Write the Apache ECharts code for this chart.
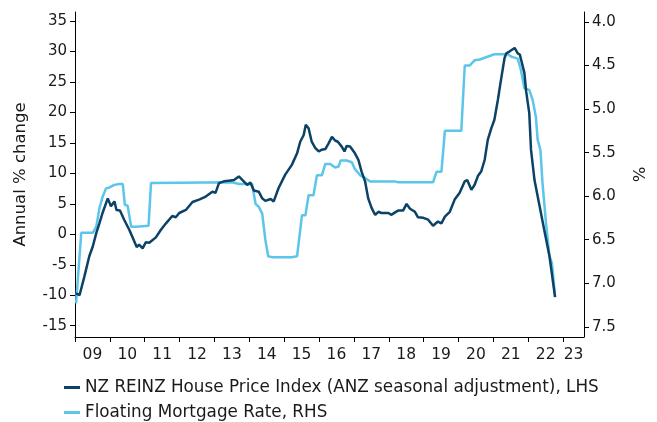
<!DOCTYPE html>
<html>
<head>
<meta charset="utf-8">
<script src="https://cdn.jsdelivr.net/npm/echarts@6/dist/echarts.min.js"></script>
<style>
  html, body { margin: 0; padding: 0; background: #fff; }
  #chart { width: 657px; height: 422px; }
</style>
</head>
<body>
<div id="chart"></div>
<script>
// House price index, annual % change (LHS)
const hpiYears = [
  2009.03, 2009.13, 2009.27, 2009.41, 2009.51, 2009.61, 2009.70, 2009.79, 2009.94, 2009.99,
  2010.03, 2010.13, 2010.19, 2010.29, 2010.41, 2010.56, 2010.65, 2010.77, 2010.84, 2010.94,
  2011.03, 2011.13, 2011.32, 2011.46, 2011.61, 2011.79, 2011.89, 2011.99,
  2012.18, 2012.37, 2012.56, 2012.75, 2012.94,
  2013.03, 2013.13, 2013.27, 2013.41, 2013.56, 2013.61, 2013.70, 2013.84, 2013.94,
  2014.03, 2014.13, 2014.27, 2014.37, 2014.46, 2014.61, 2014.70, 2014.84,
  2015.03, 2015.22, 2015.37, 2015.46, 2015.56, 2015.62, 2015.70, 2015.79, 2015.89, 2015.99,
  2016.08, 2016.18, 2016.27, 2016.37, 2016.46, 2016.54, 2016.65, 2016.73, 2016.79, 2016.89,
  2017.03, 2017.13, 2017.22, 2017.32, 2017.41, 2017.51, 2017.61, 2017.70, 2017.79, 2017.99,
  2018.08, 2018.18, 2018.27, 2018.41, 2018.51, 2018.61, 2018.75, 2018.84, 2018.99,
  2019.13, 2019.27, 2019.41, 2019.51, 2019.61, 2019.75, 2019.89,
  2020.03, 2020.18, 2020.25, 2020.37, 2020.46, 2020.56, 2020.65, 2020.75, 2020.84, 2020.94,
  2021.03, 2021.13, 2021.22, 2021.32, 2021.37, 2021.46, 2021.61, 2021.70, 2021.76, 2021.89, 2021.94,
  2022.03, 2022.08, 2022.18, 2022.32, 2022.46, 2022.61, 2022.77
]
const hpiValues = [
  -9.7, -10.0, -6.9, -3.6, -2.0, 0.2, 1.8, 3.5, 5.9, 5.2,
  4.6, 5.4, 4.0, 3.9, 2.4, 0.7, -0.5, -2.1, -1.7, -2.3,
  -1.3, -1.4, -0.5, 0.7, 1.8, 3.0, 2.8, 3.5,
  4.0, 5.3, 5.7, 6.2, 7.0,
  6.8, 8.4, 8.7, 8.8, 8.9, 8.7, 9.5, 8.7, 8.1,
  8.5, 7.2, 7.0, 5.9, 5.5, 5.8, 5.4, 7.6,
  9.8, 11.4, 13.3, 15.2, 16.3, 18.0, 17.4, 15.2, 14.2, 13.6,
  13.9, 14.0, 14.9, 16.0, 15.4, 15.2, 14.4, 13.6, 14.5, 14.4,
  13.3, 12.2, 10.3, 8.7, 5.9, 4.3, 3.2, 3.7, 3.5, 3.5,
  3.2, 3.6, 3.9, 3.9, 5.0, 4.2, 3.7, 2.8, 2.7,
  2.4, 1.4, 2.1, 1.8, 2.9, 3.7, 5.7,
  6.8, 8.7, 8.9, 7.3, 8.1, 9.6, 10.3, 12.2, 15.5, 17.4,
  18.8, 22.1, 25.4, 28.9, 29.7, 30.0, 30.6, 29.7, 29.5, 26.5, 23.5,
  19.9, 13.9, 8.9, 4.8, 0.7, -3.6, -10.3
]

// Floating mortgage rate, % (RHS, inverted)
const rateYears = [
  2009.03, 2009.18, 2009.51, 2009.61, 2009.70, 2009.79, 2009.89, 2009.99,
  2010.13, 2010.27, 2010.37, 2010.43, 2010.51, 2010.61, 2010.75,
  2011.11, 2011.18, 2013.51, 2013.70, 2014.08, 2014.18, 2014.27, 2014.37, 2014.46, 2014.54, 2014.65,
  2015.22, 2015.37, 2015.51, 2015.61, 2015.70, 2015.84, 2015.94,
  2016.08, 2016.18, 2016.32, 2016.46, 2016.56, 2016.62, 2016.79, 2016.94,
  2017.03, 2017.18, 2017.32, 2017.46, 2018.18, 2018.27,
  2019.27, 2019.37, 2019.51, 2019.61, 2020.08, 2020.18, 2020.32, 2020.46, 2020.61,
  2021.03, 2021.41, 2021.53, 2021.70, 2021.79, 2021.89,
  2022.03, 2022.13, 2022.22, 2022.27, 2022.35, 2022.41, 2022.51, 2022.61, 2022.68, 2022.77
]
const rateValues = [
  7.23, 6.42, 6.42, 6.35, 6.14, 6.01, 5.91, 5.90,
  5.87, 5.86, 5.86, 6.10, 6.11, 6.35, 6.35,
  6.34, 5.85, 5.84, 5.86, 5.86, 6.09, 6.12, 6.20, 6.50, 6.69, 6.70,
  6.70, 6.69, 6.22, 6.22, 5.99, 5.99, 5.76,
  5.76, 5.63, 5.63, 5.67, 5.66, 5.59, 5.59, 5.61,
  5.69, 5.76, 5.79, 5.83, 5.83, 5.84,
  5.84, 5.72, 5.72, 5.25, 5.25, 4.50, 4.50, 4.44, 4.43,
  4.37, 4.37, 4.40, 4.42, 4.55, 4.76,
  4.78, 4.90, 5.09, 5.35, 5.47, 5.85, 6.31, 6.69, 6.77, 7.15
]

const yearTicks = [2009, 2010, 2011, 2012, 2013, 2014, 2015, 2016, 2017, 2018, 2019, 2020, 2021, 2022, 2023]
const yearLabelPos = [2009.5, 2010.5, 2011.5, 2012.5, 2013.5, 2014.5, 2015.5, 2016.5, 2017.5, 2018.5, 2019.5, 2020.5, 2021.5, 2022.5, 2023.3]
const leftTicks = [-15, -10, -5, 0, 5, 10, 15, 20, 25, 30, 35]
const rightTicks = [4.0, 4.5, 5.0, 5.5, 6.0, 6.5, 7.0, 7.5]

const hpiName = 'NZ REINZ House Price Index (ANZ seasonal adjustment), LHS'
const rateName = 'Floating Mortgage Rate, RHS'

const font = 'DejaVu Sans'
const axisColor = '#000'
const textColor = '#1a1a1a'

// one legend per row so they stack like the original
function legendRow(name, top) {
  return {
    left: 59,
    top: top,
    itemWidth: 16,
    itemHeight: 3,
    itemGap: 4,
    icon: 'rect',
    textStyle: { fontFamily: font, fontSize: 16.8, color: textColor },
    data: [name]
  }
}

const chart = echarts.init(document.getElementById('chart'))
const option = {
  animation: false,
  textStyle: { fontFamily: font },
  grid: {
    left: 75,
    right: 71,
    top: 12,
    bottom: 85
  },
  legend: [
    legendRow(hpiName, 374),
    legendRow(rateName, 399)
  ],
  xAxis: {
    type: 'value',
    min: 2009,
    max: 2023.6,
    splitLine: { show: false },
    axisLine: { onZero: false, lineStyle: { color: axisColor, width: 1 } },
    axisTick: { customValues: yearTicks, length: 5, lineStyle: { color: axisColor } },
    axisLabel: {
      customValues: yearLabelPos,
      margin: 10,
      fontSize: 15.5,
      color: textColor,
      formatter: v => String(Math.floor(v) % 100).padStart(2, '0')
    }
  },
  yAxis: [
    {
      type: 'value',
      min: -16.86,
      max: 36.5,
      name: 'Annual % change',
      nameLocation: 'middle',
      nameGap: 46,
      nameTextStyle: { fontSize: 16.5, color: textColor },
      splitLine: { show: false },
      axisLine: { show: true, lineStyle: { color: axisColor } },
      axisTick: { show: true, customValues: leftTicks, length: 5, lineStyle: { color: axisColor } },
      axisLabel: { customValues: leftTicks, fontSize: 15, color: textColor, margin: 8 }
    },
    {
      type: 'value',
      position: 'right',
      inverse: true,
      min: 3.885,
      max: 7.617,
      name: '%',
      nameLocation: 'middle',
      nameGap: 48,
      nameTextStyle: { fontSize: 16.5, color: textColor },
      splitLine: { show: false },
      axisLine: { show: true, lineStyle: { color: axisColor } },
      axisTick: { show: true, customValues: rightTicks, length: 5, lineStyle: { color: axisColor } },
      axisLabel: {
        customValues: rightTicks,
        fontSize: 15,
        color: textColor,
        margin: 8,
        formatter: v => v.toFixed(1)
      }
    }
  ],
  series: [
    {
      name: rateName,
      type: 'line',
      yAxisIndex: 1,
      showSymbol: false,
      symbol: 'none',
      itemStyle: { color: '#5bc5ea' },
      lineStyle: { color: '#5bc5ea', width: 2.5 },
      data: rateYears.map((y, i) => [y, rateValues[i]])
    },
    {
      name: hpiName,
      type: 'line',
      yAxisIndex: 0,
      showSymbol: false,
      symbol: 'none',
      itemStyle: { color: '#0b4266' },
      lineStyle: { color: '#0b4266', width: 2.5 },
      data: hpiYears.map((y, i) => [y, hpiValues[i]])
    }
  ]
}
chart.setOption(option)
</script>
</body>
</html>
